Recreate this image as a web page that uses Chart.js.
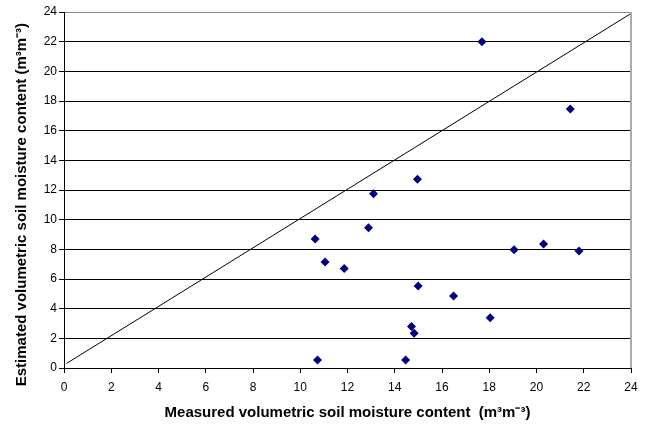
<!DOCTYPE html>
<html>
<head>
<meta charset="utf-8">
<script src="https://cdn.jsdelivr.net/npm/chart.js@4.4.1/dist/chart.umd.min.js"></script>
<style>
  html, body { margin: 0; padding: 0; background: #fff; }
  #wrap { width: 645px; height: 427px; }
</style>
</head>
<body>
<div id="wrap"><canvas id="scatter"></canvas></div>
<script>
// measured vs estimated soil moisture (m3/m3)
const measured  = [17.69, 21.43, 14.96, 13.10, 12.89, 10.63, 11.05, 11.86, 14.99, 16.49, 18.04, 14.71, 14.82, 10.73, 14.46, 19.05, 20.30, 21.80];
const estimated = [22.00, 17.46, 12.72, 11.75, 9.46, 8.70, 7.15, 6.70, 5.53, 4.85, 3.39, 2.79, 2.34, 0.54, 0.54, 7.98, 8.36, 7.89];
const lineX = [0.1, 24];
const lineY = [0.3, 23.9];
const xTicks = [0, 2, 4, 6, 8, 10, 12, 14, 16, 18, 20, 22, 24];
const yTicks = [0, 2, 4, 6, 8, 10, 12, 14, 16, 18, 20, 22, 24];

Chart.defaults.font.family = "'Liberation Sans', Arial, sans-serif";
Chart.defaults.color = '#000';

const plotFrame = {
  id: 'plotFrame',
  afterDatasetsDraw(chart) {
    const { ctx, chartArea: a } = chart;
    ctx.save();
    ctx.strokeStyle = '#aaaaaa';
    ctx.lineWidth = 2;
    ctx.beginPath();
    ctx.moveTo(a.right, a.top);
    ctx.lineTo(a.right, a.bottom);
    ctx.stroke();
    ctx.restore();
  }
};

new Chart(document.getElementById('scatter'), {
  type: 'scatter',
  data: {
    datasets: [
      {
        label: 'Points',
        data: measured.map((m, i) => ({ x: m, y: estimated[i] })),
        pointStyle: 'rectRot', radius: 4.5, hoverRadius: 4.5,
        backgroundColor: '#000080', borderColor: '#000080', borderWidth: 0
      },
      {
        type: 'line', label: '1:1',
        data: lineX.map((x, i) => ({ x: x, y: lineY[i] })),
        borderColor: '#000', borderWidth: 1, pointRadius: 0, fill: false
      }
    ]
  },
  options: {
    responsive: true, maintainAspectRatio: false, animation: false,
    layout: { padding: { top: 12, right: 14, left: 0, bottom: 0 } },
    plugins: { legend: { display: false }, tooltip: { enabled: false } },
    scales: {
      x: {
        type: 'linear', min: 0, max: 24,
        afterBuildTicks: s => { s.ticks = xTicks.map(v => ({ value: v })); },
        afterFit: s => { s.height = 59; },
        grid: { drawOnChartArea: false, color: '#000', tickLength: 5, tickColor: '#000' },
        border: { color: '#000', width: 1 },
        ticks: { font: { size: 12 }, padding: 7, maxRotation: 0 },
        title: {
          display: true,
          text: 'Measured volumetric soil moisture content  (m³m⁻³)',
          font: { size: 15, weight: 'bold' },
          padding: { top: 0, bottom: 5 }
        }
      },
      y: {
        type: 'linear', min: 0, max: 24,
        afterBuildTicks: s => { s.ticks = yTicks.map(v => ({ value: v })); },
        afterFit: s => { s.width = 64; },
        grid: {
          color: c => (c.tick && c.tick.value === 24 ? '#888' : '#000'),
          tickLength: 5, tickColor: '#000'
        },
        border: { color: '#000', width: 1 },
        ticks: { font: { size: 12 }, padding: 2 },
        title: {
          display: true,
          text: 'Estimated volumetric soil moisture content (m³m⁻³)       ',
          font: { size: 15, weight: 'bold' },
          padding: { top: 13, bottom: 0 }
        }
      }
    }
  },
  plugins: [plotFrame]
});
</script>
</body>
</html>
